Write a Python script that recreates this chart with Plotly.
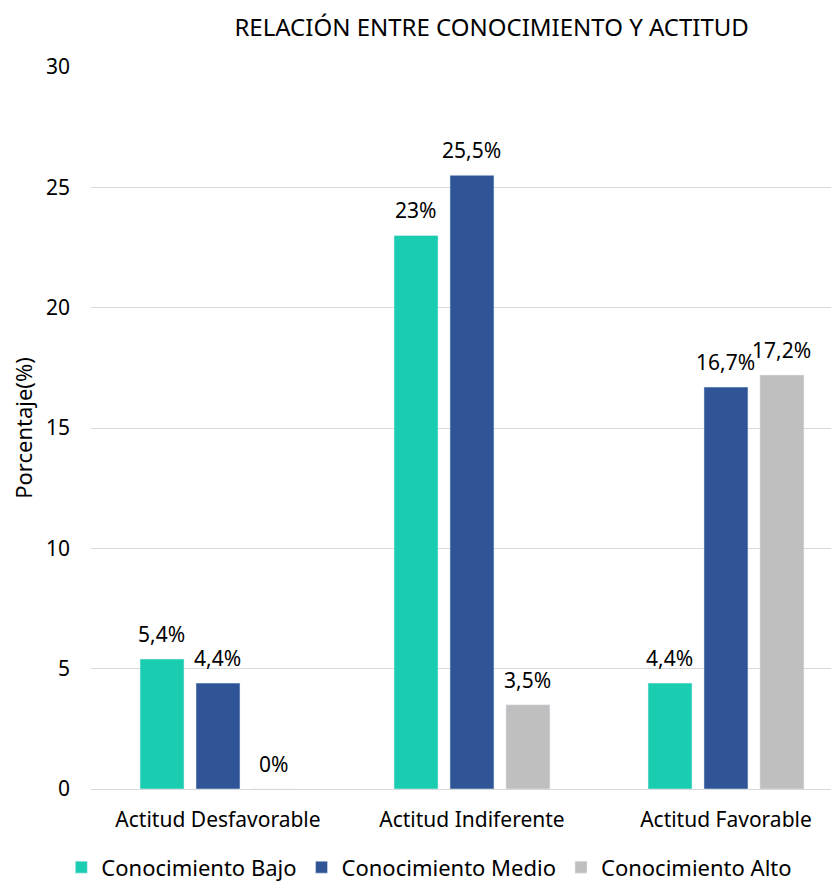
import plotly.graph_objects as go

categorias = ["Actitud Desfavorable", "Actitud Indiferente", "Actitud Favorable"]
series = ["Conocimiento Bajo", "Conocimiento Medio", "Conocimiento Alto"]
bajo = [5.4, 23.0, 4.4]
medio = [4.4, 25.5, 16.7]
alto = [0.0, 3.5, 17.2]
etiquetas_bajo = ["5,4%", "23%", "4,4%"]
etiquetas_medio = ["4,4%", "25,5%", "16,7%"]
etiquetas_alto = ["0%", "3,5%", "17,2%"]
colores = ["#1ACDB0", "#2F5597", "#BFBFBF"]
ticks_y = [0, 5, 10, 15, 20, 25, 30]

FONT = "Noto Sans"
fig = go.Figure()
valores = [bajo, medio, alto]
etiquetas = [etiquetas_bajo, etiquetas_medio, etiquetas_alto]
desplaz = [-56, 0, 56]
for nombre, vals, labs, col, dx in zip(series, valores, etiquetas, colores, desplaz):
    fig.add_trace(go.Bar(x=categorias, y=vals, name=nombre, marker_color=col))
    for c, v, t in zip(categorias, vals, labs):
        fig.add_annotation(x=c, y=v, text=t, showarrow=False, xshift=dx, yshift=25,
                           yanchor="middle", font=dict(family=FONT, size=21, color="#000000"))

fig.update_layout(
    width=831, height=876,
    margin=dict(l=83, r=0, t=59, b=95, autoexpand=False),
    paper_bgcolor="white", plot_bgcolor="white",
    barmode="group", bargap=0.339, bargroupgap=0.214,
    font=dict(family=FONT, size=21, color="#000000"),
    title=dict(text="RELACIÓN ENTRE CONOCIMIENTO Y ACTITUD", x=0.582, xanchor="center",
               y=0.978, yanchor="middle", font=dict(family=FONT, size=24, color="#000000")),
    xaxis=dict(range=[-0.5, 2.445], showgrid=False, showline=False, ticks="",
               tickfont=dict(size=21), ticklabelstandoff=16, automargin=False),
    yaxis=dict(range=[0, 30], tickvals=ticks_y, showgrid=True, gridcolor="#D9D9D9",
               gridwidth=1.3, zeroline=True, zerolinecolor="#D9D9D9", zerolinewidth=1.3,
               tickfont=dict(size=21), ticklabelstandoff=20, automargin=False,
               title=dict(text="Porcentaje(%)", font=dict(size=22), standoff=16)),
    legend=dict(orientation="h", xref="container", yref="container", x=0.507, xanchor="center",
                y=0.019, yanchor="middle", font=dict(size=22), itemwidth=30,
                traceorder="normal"),
)
fig.write_html("out.html")
